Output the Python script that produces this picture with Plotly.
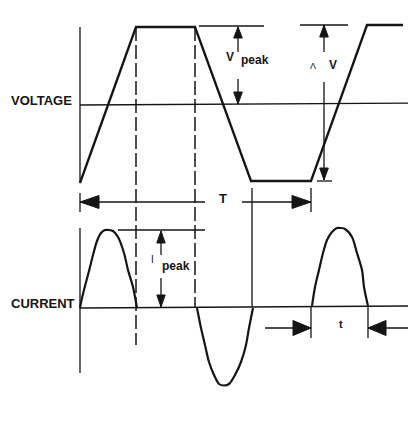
import plotly.graph_objects as go

W, H = 416, 433
PAGE_PAD = 8  # default body margin of the html page
INK = "#151515"
FONT = "Liberation Sans, Arial, sans-serif"

# voltage waveform (trapezoid), y grows downwards
volt_x = [80, 136, 195, 251, 311, 367, 403]
volt_y = [183, 27, 27, 181, 181, 25, 25]
volt_zero_x = [80, 416]
volt_zero_y = [105, 103]

# current pulses
pulse1_x = [80, 82, 85, 89, 93, 97, 101, 105, 109, 113, 118, 124, 128, 133, 137]
pulse1_y = [308, 298, 286, 271, 255, 241, 233, 230, 230, 231, 237, 253, 270, 287, 308]
pulse2_x = [197, 201, 205, 209, 214, 219, 224, 229, 235, 241, 246, 249, 253]
pulse2_y = [308, 328, 345, 362, 375, 384, 385.5, 384, 375, 362, 345, 328, 308]
pulse3_x = [312, 315, 319, 323, 327, 332, 337, 341, 345, 352, 357, 362, 364, 368]
pulse3_y = [306, 287, 270, 253, 240, 232, 228, 228, 229, 237, 253, 270, 287, 306]
cur_zero_x = [80, 412]
cur_zero_y = [308, 306]

# thin solid guide lines (x0, y0, x1, y1)
guides = [
    (80, 27, 80, 183), (80, 193, 80, 212), (80, 228, 80, 373),
    (252, 188, 252, 307), (311, 188, 311, 212),
    (311, 306, 311, 338), (368, 306, 368, 338),
    (199, 26, 264, 26), (300, 25, 348, 25), (317, 181, 332, 181),
    (118, 230, 205, 230),
    (80, 202, 205, 202), (242, 202, 311, 202),
    (265, 328, 311, 328), (368, 328, 413, 328),
    (238, 27, 238, 52), (238, 79, 238, 104),
    (324, 25, 324, 52), (324, 82, 324, 180),
    (161, 231, 161, 255), (161, 278, 161, 307),
]
dashed = [(136, 27, 136, 345), (195, 27, 195, 307)]

# arrowheads: tip x, tip y, direction, length, half width
heads = [
    (80, 202, "left", 19, 6.5), (311, 202, "right", 19, 6.5),
    (311, 328, "right", 18, 7.5), (368, 328, "left", 18, 7.5),
    (238, 27, "up", 11, 4.3), (238, 104, "down", 12, 4.3),
    (324, 25, "up", 12, 4.3), (324, 180, "down", 12, 4.3),
    (161, 231, "up", 12, 4.2), (161, 307, "down", 12, 4.2),
]

# text labels: text, x, y, size, bold, anchor
labels = [
    ("VOLTAGE", 74, 100, 13, True, "right"),
    ("CURRENT", 77, 303, 13, True, "right"),
    ("T", 223, 198, 13, True, "center"),
    ("t", 341, 324, 11, True, "center"),
    ("V", 229.5, 56.5, 12, True, "center"),
    ("peak", 239, 59.5, 12, True, "left"),
    ("\u039b", 313, 65.5, 9, False, "center"),
    ("V", 333, 64.5, 12, True, "center"),
    ("I", 152, 259.5, 10, False, "center"),
    ("peak", 160, 266, 12, True, "left"),
]


def segs(items):
    xs, ys = [], []
    for x0, y0, x1, y1 in items:
        xs += [x0, x1, None]
        ys += [y0, y1, None]
    return xs, ys


def triangle(x, y, d, ln, hw):
    if d == "left":
        return [x, x + ln, x + ln, x], [y, y - hw, y + hw, y]
    if d == "right":
        return [x, x - ln, x - ln, x], [y, y - hw, y + hw, y]
    if d == "up":
        return [x, x - hw, x + hw, x], [y, y + ln, y + ln, y]
    return [x, x - hw, x + hw, x], [y, y - ln, y - ln, y]


fig = go.Figure()

gx, gy = segs(guides)
fig.add_trace(go.Scatter(x=gx, y=gy, mode="lines", line=dict(color=INK, width=1.3)))
dx, dy = segs(dashed)
fig.add_trace(go.Scatter(x=dx, y=dy, mode="lines",
                         line=dict(color=INK, width=1.5, dash="14px,4px")))
fig.add_trace(go.Scatter(x=volt_zero_x, y=volt_zero_y, mode="lines", line=dict(color=INK, width=1.3)))
fig.add_trace(go.Scatter(x=cur_zero_x, y=cur_zero_y, mode="lines", line=dict(color=INK, width=1.4)))

fig.add_trace(go.Scatter(x=volt_x, y=volt_y, mode="lines", line=dict(color=INK, width=2.3)))
for px_, py_ in [(pulse1_x, pulse1_y), (pulse2_x, pulse2_y), (pulse3_x, pulse3_y)]:
    fig.add_trace(go.Scatter(x=px_, y=py_, mode="lines",
                             line=dict(color=INK, width=2.2, shape="spline", smoothing=0.8)))

for h in heads:
    tx, ty = triangle(*h)
    fig.add_trace(go.Scatter(x=tx, y=ty, mode="lines", fill="toself", fillcolor=INK,
                             line=dict(color=INK, width=1)))

for text, x, y, size, bold, anchor in labels:
    fig.add_annotation(x=x, y=y, xref="x", yref="y", text=f"<b>{text}</b>" if bold else text,
                       showarrow=False, xanchor=anchor, yanchor="middle",
                       font=dict(family=FONT, size=size, color=INK))

# the page body adds an 8px margin, so shrink the figure and shift the ranges
fig.update_layout(
    width=W - PAGE_PAD, height=H - PAGE_PAD, margin=dict(l=0, r=0, t=0, b=0),
    paper_bgcolor="white", plot_bgcolor="white", showlegend=False,
    xaxis=dict(range=[PAGE_PAD, W], visible=False, fixedrange=True),
    yaxis=dict(range=[H, PAGE_PAD], visible=False, fixedrange=True),
)
fig.write_html("out.html")
